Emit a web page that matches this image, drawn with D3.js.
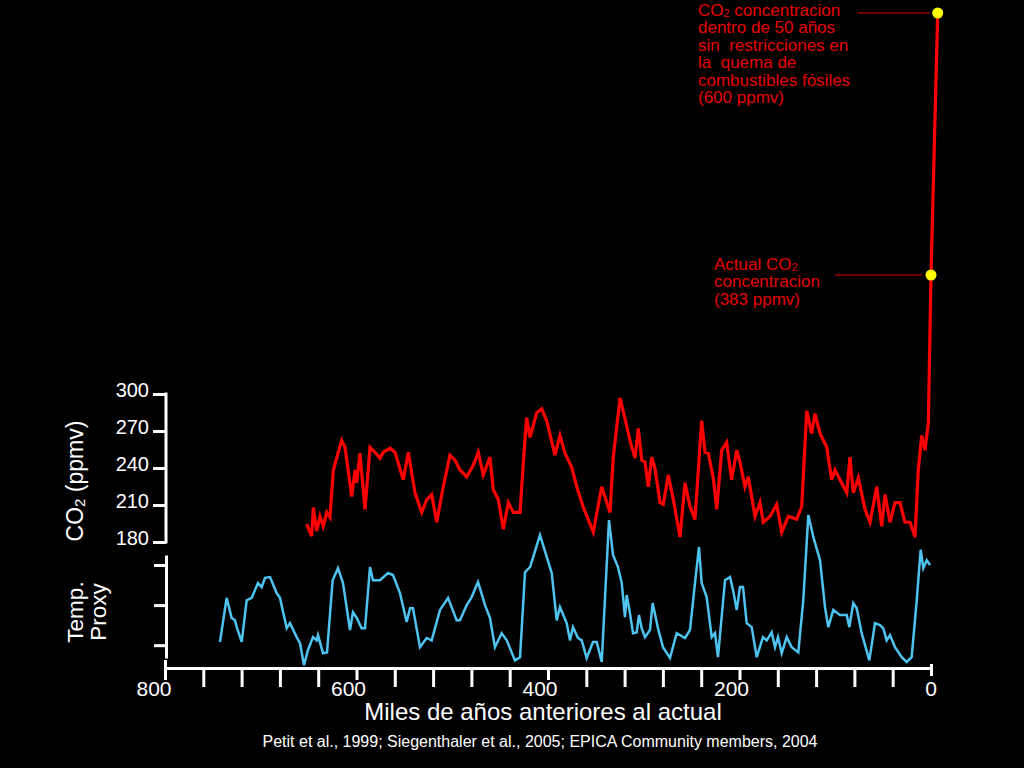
<!DOCTYPE html>
<html>
<head>
<meta charset="utf-8">
<script src="https://cdn.jsdelivr.net/npm/d3@7"></script>
<style>
html, body { margin: 0; background: #000; }
svg { display: block; font-family: "Liberation Sans", Arial, sans-serif; }
</style>
</head>
<body>
<svg width="1024" height="768"></svg>
<script>
// CO2 record (thousands of years before present, ppmv)
const CO2_AGE = [652.0, 646.8, 645.1, 641.6, 638.1, 634.7, 631.1, 627.7, 624.2, 615.5, 612.0, 605.0, 601.6, 599.8, 596.4, 591.1,
    585.9, 580.7, 575.5, 572.0, 565.0, 559.8, 551.1, 545.9, 538.9, 531.9, 526.7, 521.5, 516.2, 509.4, 502.4, 497.1, 491.9,
    484.9, 478.0, 472.8, 467.6, 460.6, 457.1, 451.9, 446.7, 441.5, 436.2, 429.2, 425.8, 422.3, 418.8, 411.8, 406.6, 401.4,
    392.7, 387.5, 382.3, 375.3, 370.0, 363.1, 352.7, 343.9, 335.3, 331.8, 324.8, 319.6, 314.4, 309.1, 305.7, 302.1, 298.7,
    295.3, 291.7, 288.3, 283.0, 279.6, 274.4, 269.1, 262.1, 256.9, 251.7, 246.5, 239.5, 236.0, 232.6, 227.4, 223.8, 218.6,
    213.4, 208.2, 202.9, 199.5, 194.3, 190.8, 183.8, 178.6, 175.1, 168.1, 161.2, 155.9, 149.0, 140.3, 135.0, 129.8, 124.6,
    121.2, 115.9, 108.9, 103.7, 100.3, 95.0, 88.0, 84.6, 81.2, 75.9, 68.9, 63.7, 56.7, 51.5, 48.0, 42.8, 37.6, 32.4, 27.2,
    21.9, 16.7, 13.3, 9.7, 6.3, 2.8, 0, -7];
const CO2_PPMV = [194.4, 184.8, 208, 188.8, 200.8, 192.8, 204, 200, 238.4, 262.4, 256.8, 216.8, 238.4, 228, 252, 206.4,
    256.8, 252.8, 248, 252.8, 256, 252.8, 230.4, 252.8, 220, 204, 214.4, 218.4, 196, 224.8, 250.4, 246.4, 238.4,
    232.8, 242.4, 252.8, 234.4, 248.8, 222.4, 214.4, 190.4, 212, 204, 204, 244, 280.8, 264.8, 284.8, 288, 278.4,
    250.4, 266.4, 252, 240.8, 224.8, 208, 188, 224.8, 204, 248.8, 296.8, 280, 262.4, 248, 272, 246.4, 244.8,
    224.8, 248.8, 240, 212, 210.4, 234.4, 214.4, 184, 228, 208.8, 198.4, 278.4, 252.8, 252, 232, 206.4, 254.4,
    260.8, 230.4, 254.4, 244.8, 224.8, 232.8, 200.8, 212, 196, 200.8, 210.4, 188, 200.8, 198.4, 208.8, 286.4, 268,
    284, 268, 256.8, 230.4, 238.4, 230.4, 220, 248.8, 220, 232, 206.4, 196, 224.8, 192.8, 218.4, 196, 212, 212, 196,
    196, 184, 238.4, 266.4, 254.4, 276, 383, 600];

// temperature proxy (same age axis, arbitrary units)
const TEMP_AGE = [742.6, 735.6, 730.4, 726.9, 725.1, 719.9, 714.7, 709.5, 702.9, 699.0, 695.6, 690.3, 683.4, 679.9, 672.9,
    669.5, 662.5, 659.0, 654.8, 650.7, 645.4, 641.6, 640.2, 635.0, 630.8, 624.9, 619.3, 614.1, 606.8, 603.7, 599.8, 594.6,
    591.1, 585.9, 582.8, 575.5, 567.1, 561.9, 554.6, 547.6, 544.1, 541.0, 533.7, 526.7, 521.5, 512.8, 504.4, 495.4, 491.9,
    484.9, 479.7, 473.1, 465.8, 460.6, 455.4, 448.4, 443.1, 434.5, 429.2, 424.0, 418.8, 415.7, 408.4, 396.1, 390.9, 387.5,
    380.5, 377.0, 373.9, 368.7, 364.8, 359.6, 353.0, 349.1, 343.9, 336.3, 332.1, 326.9, 323.0, 319.6, 317.8, 314.4, 311.2,
    307.4, 305.0, 302.1, 298.7, 293.5, 290.7, 285.1, 279.9, 272.6, 265.6, 256.9, 251.7, 246.5, 242.3, 239.5, 234.3, 229.0,
    225.6, 222.5, 215.1, 209.9, 206.8, 202.9, 199.5, 196.3, 192.5, 187.3, 182.0, 175.5, 171.6, 166.4, 162.9, 159.8, 155.9,
    150.7, 145.5, 138.6, 133.4, 128.1, 122.9, 115.9, 110.7, 107.3, 102.0, 95.0, 88.0, 85.3, 81.2, 77.6, 72.4, 64.4, 58.5,
    53.3, 49.8, 46.3, 42.8, 37.6, 30.6, 25.4, 20.2, 14.9, 10.8, 8.0, 4.5, 1.0];
const TEMP_PROXY = [-7.6, -2.1, -4.6, -4.9, -5.75, -7.6, -2.4, -2.1, -0.25, -0.75, 0.4, 0.5, -1.5, -2.1, -5.9,
    -5.25, -7, -7.75, -10.5, -8.6, -7, -7.4, -6.75, -9, -8.9, 0.1, 1.6, -0.25, -6.1, -3.9, -4.6, -5.9,
    -5.9, 1.75, 0.1, 0.1, 1.0, 0.75, -1.5, -5.1, -3.4, -3.4, -8.25, -7.1, -7.4, -3.6, -2.1, -4.9, -4.9,
    -3, -2, -0.1, -3, -4.6, -8.25, -6.5, -7.4, -9.9, -9.5, 1.1, 1.75, 2.9, 5.75, 1.0, -4.9, -3.25,
    -5.25, -7.4, -5.75, -7.1, -7.4, -9.6, -7.6, -7.6, -10.1, 7.6, 3.25, 1.75, -0.25, -4.5, -1.75, -4, -6.5,
    -6.4, -4.25, -5.9, -7, -6.1, -2.75, -5.9, -8.25, -9.6, -6.5, -7.1, -6.1, -0.25, 4.25, -0.25, -2, -7,
    -6.5, -9.5, 0.1, 0.5, -1.1, -3.6, -0.75, -0.75, -5.25, -5.75, -9.5, -7, -7.4, -6.4, -8.25, -7, -9,
    -7, -8.25, -8.9, -2.4, 8.25, 5.5, 2.6, -3.25, -5.75, -3.6, -4.25, -4.25, -5.75, -2.75, -3.4, -6.5, -9.9, -5.25,
    -5.5, -5.9, -7.4, -6.75, -8.25, -9.5, -10.1, -9.5, -2.4, 3.9, 1.6, 2.6, 2.0];

const X_TICKS = d3.range(0, 801, 40);
const X_LABELS = [800, 600, 400, 200, 0];
const CO2_TICKS = [180, 210, 240, 270, 300];
const TEMP_TICKS = [2, -3, -8];

// highlighted points: today and 50 years ahead
const MARK_AGE = [0, -7];
const MARK_PPMV = [383, 600];
const NOTE_NOW = ['Actual CO2', 'concentracion', '(383 ppmv)'];
const NOTE_FUTURE = ['CO2 concentracion', 'dentro de 50 años', 'sin  restricciones en', 'la  quema de',
    'combustibles fósiles', '(600 ppmv)'];

const RED = '#ff0000';
const BLUE = '#4fc3f0';
const NOTE_RED = '#e60000';

const svg = d3.select('svg');
svg.append('rect').attr('width', 1024).attr('height', 768).attr('fill', '#000');

const x = d3.scaleLinear().domain([800, 0]).range([165, 931]);
// the slide stretches the upper part, so the CO2 scale is piecewise
const co2Y = d3.scaleLinear().domain([180, 300, 383, 600]).range([542, 394, 275, 13]);
const tempY = d3.scaleLinear().domain([-9.6, 3.25]).range([658, 555]);

// curves
const co2Line = d3.line().x(i => x(CO2_AGE[i])).y(i => co2Y(CO2_PPMV[i]));
svg.append('path')
    .attr('d', co2Line(d3.range(CO2_AGE.length)))
    .attr('fill', 'none').attr('stroke', RED).attr('stroke-width', 3.2);

const tempLine = d3.line().x(i => x(TEMP_AGE[i])).y(i => tempY(TEMP_PROXY[i]));
svg.append('path')
    .attr('d', tempLine(d3.range(TEMP_AGE.length)))
    .attr('fill', 'none').attr('stroke', BLUE).attr('stroke-width', 2.5);

// x axis
const xAxis = svg.append('g').attr('transform', 'translate(0,668)')
    .call(d3.axisBottom(x).tickValues(X_TICKS).tickSize(19).tickSizeOuter(0).tickFormat(''));
xAxis.select('.domain').attr('stroke', '#fff').attr('stroke-width', 3);
xAxis.selectAll('.tick line').attr('stroke', '#fff').attr('stroke-width', 3)
    .attr('y1', d => d === 800 ? -8 : (d === 0 ? -4 : 0))
    .attr('y2', d => d === 0 ? 8 : (d % 200 === 0 ? 12 : 19));

svg.append('g').selectAll('text').data(X_LABELS).join('text')
    .attr('x', d => x(d) + (d === 0 ? 0 : (d === 800 ? -11 : -8)))
    .attr('y', 696)
    .attr('text-anchor', 'middle').attr('fill', '#fff').attr('font-size', 21)
    .text(d => d);

svg.append('text').attr('x', 543).attr('y', 720).attr('text-anchor', 'middle')
    .attr('fill', '#fff').attr('font-size', 24).text('Miles de años anteriores al actual');

svg.append('text').attr('x', 540).attr('y', 747).attr('text-anchor', 'middle')
    .attr('fill', '#fff').attr('font-size', 16)
    .text('Petit et al., 1999; Siegenthaler et al., 2005; EPICA Community members, 2004');

// CO2 axis
const co2Axis = svg.append('g').attr('transform', 'translate(166,0)')
    .call(d3.axisLeft(co2Y).tickValues(CO2_TICKS).tickSize(13).tickPadding(4));
co2Axis.select('.domain').remove();
co2Axis.append('line').attr('y1', co2Y(180) + 1.5).attr('y2', co2Y(300) - 1.5)
    .attr('stroke', '#fff').attr('stroke-width', 3);
co2Axis.selectAll('.tick line').attr('stroke', '#fff').attr('stroke-width', 3);
co2Axis.selectAll('.tick text').attr('fill', '#fff').attr('font-size', 20)
    .attr('font-family', '"Liberation Sans", Arial, sans-serif').attr('dy', '0.12em');

// temperature axis
const tempAxis = svg.append('g').attr('transform', 'translate(166,0)')
    .call(d3.axisLeft(tempY).tickValues(TEMP_TICKS).tickSize(12).tickSizeOuter(0).tickFormat(''));
tempAxis.select('.domain').attr('stroke', '#fff').attr('stroke-width', 3);
tempAxis.selectAll('.tick line').attr('stroke', '#fff').attr('stroke-width', 3);

// text with a subscript 2 in "CO2"
function co2Text(sel, str, subSize, shift) {
    const parts = str.split('CO2');
    parts.forEach((p, i) => {
        if (i > 0) {
            sel.append('tspan').text('CO');
            sel.append('tspan').attr('font-size', subSize).attr('dy', shift).text('2');
            sel.append('tspan').attr('dy', -shift).text(p);
        } else if (p) {
            sel.append('tspan').text(p);
        }
    });
}

const co2Title = svg.append('text').attr('transform', 'translate(83,481) rotate(-90)')
    .attr('text-anchor', 'middle').attr('fill', '#fff').attr('font-size', 23);
co2Text(co2Title, 'CO2 (ppmv)', 15, 2);

const tempTitle = svg.append('text').attr('transform', 'translate(83,612) rotate(-90)')
    .attr('text-anchor', 'middle').attr('fill', '#fff').attr('font-size', 22.5);
tempTitle.append('tspan').attr('x', 0).attr('y', 0).text('Temp.');
tempTitle.append('tspan').attr('x', 0).attr('y', 23).text('Proxy');

// annotations
const notes = [
    { lines: NOTE_FUTURE, tx: 698, dy: 3, lx0: 80, lx1: 8 },
    { lines: NOTE_NOW, tx: 714, dy: -5, lx0: 96, lx1: 9 }
];
notes.forEach((n, k) => {
    const px = x(MARK_AGE[1 - k]);
    const py = co2Y(MARK_PPMV[1 - k]);
    svg.append('line').attr('x1', px - n.lx0).attr('x2', px - n.lx1).attr('y1', py).attr('y2', py)
        .attr('stroke', NOTE_RED).attr('stroke-width', 1);
    n.lines.forEach((s, j) => {
        const t = svg.append('text').attr('x', n.tx).attr('y', py + n.dy + j * 17.4)
            .attr('fill', NOTE_RED).attr('font-size', 17).attr('xml:space', 'preserve')
            .style('white-space', 'pre');
        co2Text(t, s, 11, 1);
    });
});

svg.append('g').selectAll('circle').data(MARK_AGE).join('circle')
    .attr('cx', d => x(d)).attr('cy', (d, i) => co2Y(MARK_PPMV[i])).attr('r', 5.5)
    .attr('fill', '#ffff00');
</script>
</body>
</html>
